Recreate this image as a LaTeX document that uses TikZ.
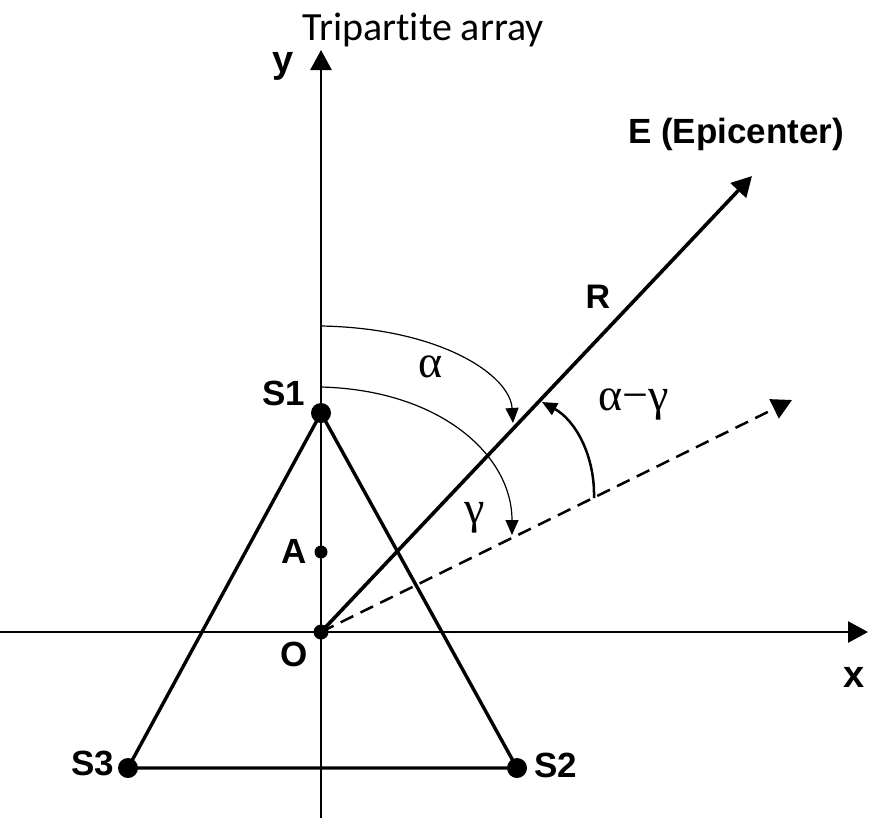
\documentclass[tikz,border=0pt]{standalone}
\usepackage{fontspec}
\setmainfont{Liberation Sans}
\newfontfamily\titlefont[Ligatures=NoCommon]{Carlito}
\newfontfamily\grkfont{Liberation Serif}
\usetikzlibrary{arrows.meta}
\begin{document}
\begin{tikzpicture}[x=1pt,y=-1pt,
  lbl/.style={font=\bfseries\fontsize{35}{40}\selectfont, anchor=base, inner sep=0pt},
  grk/.style={font=\grkfont\fontsize{46}{50}\selectfont, anchor=base, inner sep=0pt},
  bigdot/.style={circle, fill=black, inner sep=0pt, minimum size=20pt},
  smalldot/.style={circle, fill=black, inner sep=0pt, minimum size=13pt},
  bigtip/.style={-{Triangle[length=20pt,width=21pt]}},
  arctip/.style={-{Triangle[length=15pt,width=13pt]}},
  axis/.style={line width=2.7pt, bigtip},
  edge/.style={line width=3.4pt},
  thinarc/.style={line width=1.2pt, arctip}]
\useasboundingbox (0,0) rectangle (874,820);
% points
\coordinate (yb) at (321,818);
\coordinate (yt) at (321,50);
\coordinate (xl) at (0,632);
\coordinate (xr) at (868,632);
\coordinate (E) at (752,176);
\coordinate (D) at (792,400);
\coordinate (a1) at (321,326);
\coordinate (a2) at (513,423);
\coordinate (g1) at (321,387);
\coordinate (g2) at (512,535);
\coordinate (d1) at (594,498);
\coordinate (d2) at (542,402);
% axes
\draw[axis] (yb) -- (yt);
\draw[axis] (xl) -- (xr);
% station nodes
\node[bigdot] (S1) at (321,413) {};
\node[bigdot] (S2) at (517,768) {};
\node[bigdot] (S3) at (128,768) {};
\node[smalldot] (A) at (321,552) {};
\node[bigdot, minimum size=15pt] (O) at (321,632) {};
% triangle
\draw[edge, line join=round] (S1.center) -- (S2.center) -- (S3.center) -- cycle;
% epicenter direction
\draw[line width=3.6pt, bigtip] (O.center) -- (E);
\draw[line width=2.5pt, dash pattern=on 14pt off 8pt, bigtip] (O.center) -- (D);
% angle arcs
\draw[thinarc] (a1) .. controls (440,328) and (510,375) .. (a2);
\draw[thinarc] (g1) .. controls (440,390) and (512,455) .. (g2);
\draw[line width=2.5pt, arctip] (d1) .. controls (595,455) and (575,420) .. (d2);
% labels
\node[anchor=base, inner sep=0pt, font=\titlefont\fontsize{40}{46}\selectfont] (title) at (423,40) {Tripartite array};
\node[lbl, font=\bfseries\fontsize{38}{42}\selectfont] (ly) at (283,72) {y};
\node[lbl, font=\bfseries\fontsize{38}{42}\selectfont] (lx) at (854,687) {x};
\node[lbl, font=\bfseries\fontsize{35}{38}\selectfont] (lE) at (736,143) {E (Epicenter)};
\node[lbl, font=\bfseries\fontsize{34}{38}\selectfont] (lR) at (598,308) {R};
\node[lbl] (lS1) at (284,405) {S1};
\node[lbl] (lA) at (294,563) {A};
\node[lbl] (lO) at (294,666) {O};
\node[lbl] (lS3) at (93,775) {S3};
\node[lbl] (lS2) at (556,777) {S2};
\node[grk] (lal) at (431,377) {α};
\node[grk] (lga) at (475,523) {γ};
\node[grk] (lag) at (634,410) {α\char"2212γ};
\end{tikzpicture}
\end{document}
